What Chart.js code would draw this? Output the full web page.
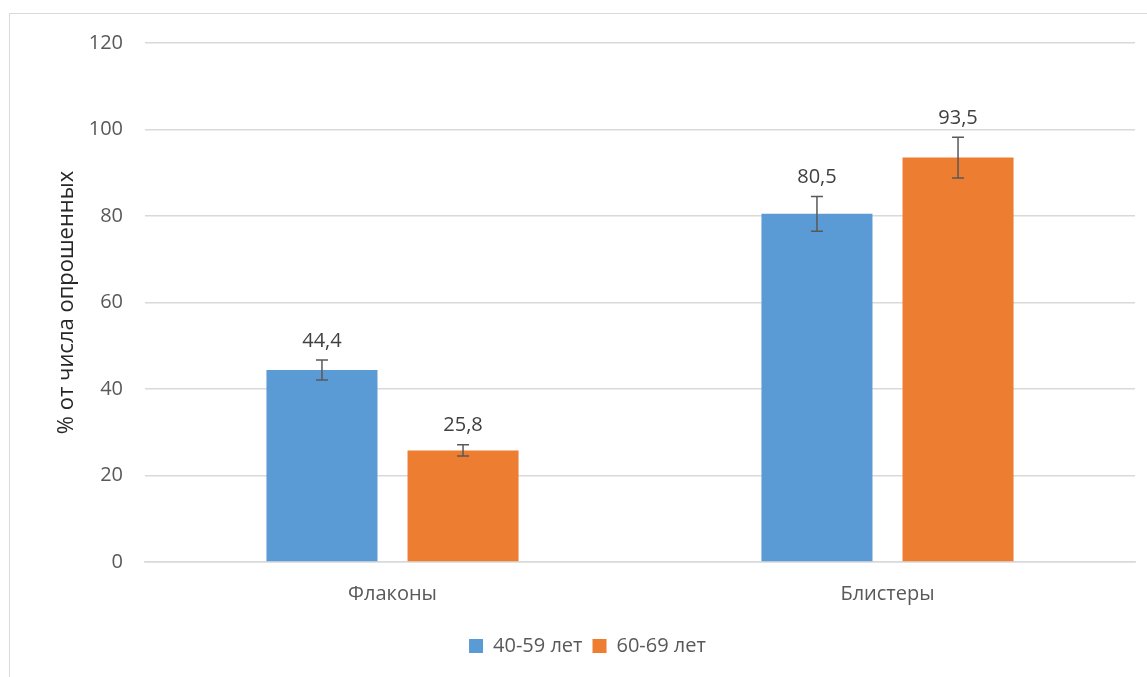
<!DOCTYPE html>
<html>
<head>
<meta charset="utf-8">
<script src="https://cdn.jsdelivr.net/npm/chart.js@4"></script>
<style>
    html, body { margin: 0; padding: 0; background: #fff; }
    #wrap { position: relative; width: 1147px; height: 677px; overflow: hidden; }
    #frame { position: absolute; left: 9px; top: 13px; width: 1200px; height: 700px; border: 1px solid #d9d9d9; }
    #grafico { position: absolute; left: 0; top: 0; }
</style>
</head>
<body>
<div id="wrap">
    <div id="frame"></div>
    <canvas id="grafico" width="1147" height="677"></canvas>
</div>
<script>
// dados
const categorias = ["Флаконы", "Блистеры"];
const series = ["40-59 лет", "60-69 лет"];
const valores4059 = [44.4, 80.5];
const valores6069 = [25.8, 93.5];
const erro4059 = [2.3, 4.0];
const erro6069 = [1.3, 4.7];
const rotulos4059 = ["44,4", "80,5"];
const rotulos6069 = ["25,8", "93,5"];
const ticksY = [0, 20, 40, 60, 80, 100, 120];

const FONTE = "'Open Sans', 'DejaVu Sans', sans-serif";
const CINZA = "#595959";

// barras de erro + rótulos de valor
const pluginErros = {
    id: "erros",
    afterDatasetsDraw(chart) {
        const ctx = chart.ctx;
        const y = chart.scales.y;
        chart.data.datasets.forEach((ds, i) => {
            const meta = chart.getDatasetMeta(i);
            meta.data.forEach((bar, j) => {
                const v = ds.data[j];
                const e = ds.erros[j];
                const yTop = y.getPixelForValue(v + e);
                const yBot = y.getPixelForValue(v - e);
                ctx.save();
                ctx.strokeStyle = CINZA;
                ctx.lineWidth = 1.5;
                ctx.beginPath();
                ctx.moveTo(bar.x, yTop); ctx.lineTo(bar.x, yBot);
                ctx.moveTo(bar.x - 6, yTop); ctx.lineTo(bar.x + 6, yTop);
                ctx.moveTo(bar.x - 6, yBot); ctx.lineTo(bar.x + 6, yBot);
                ctx.stroke();
                ctx.fillStyle = "#404040";
                ctx.font = "20px " + FONTE;
                ctx.textAlign = "center";
                ctx.textBaseline = "middle";
                ctx.fillText(ds.rotulos[j], bar.x, yTop - 19);
                ctx.restore();
            });
        });
    }
};

new Chart(document.getElementById("grafico"), {
    type: "bar",
    data: {
        labels: categorias,
        datasets: [
            { label: series[0], data: valores4059, erros: erro4059, rotulos: rotulos4059, backgroundColor: "#5b9bd5" },
            { label: series[1], data: valores6069, erros: erro6069, rotulos: rotulos6069, backgroundColor: "#ed7d31" }
        ]
    },
    options: {
        responsive: false,
        animation: false,
        devicePixelRatio: 1,
        layout: { padding: { left: 40, right: 12, top: 43, bottom: 11 } },
        datasets: { bar: { categoryPercentage: 0.57, barPercentage: 0.787 } },
        plugins: {
            legend: {
                position: "bottom",
                labels: { boxWidth: 14, boxHeight: 14, padding: 10, color: CINZA, font: { family: FONTE, size: 20 } }
            },
            tooltip: { enabled: false }
        },
        scales: {
            x: {
                grid: { display: false },
                border: { color: "#d9d9d9", width: 1.5 },
                ticks: { color: CINZA, padding: 12, font: { family: FONTE, size: 20 } },
                afterFit: s => { s.height = 64; }
            },
            y: {
                min: 0, max: 120,
                afterBuildTicks: s => { s.ticks = ticksY.map(v => ({ value: v })); },
                grid: { color: "#d9d9d9", lineWidth: 1.5, drawTicks: false },
                border: { display: false },
                ticks: { color: CINZA, padding: 22, font: { family: FONTE, size: 20 } },
                title: { display: true, text: "% от числа опрошенных", color: "#262626", padding: { top: 14, bottom: 0 }, font: { family: FONTE, size: 22 } },
                afterFit: s => { s.width = 105; }
            }
        }
    },
    plugins: [pluginErros]
});
</script>
</body>
</html>
